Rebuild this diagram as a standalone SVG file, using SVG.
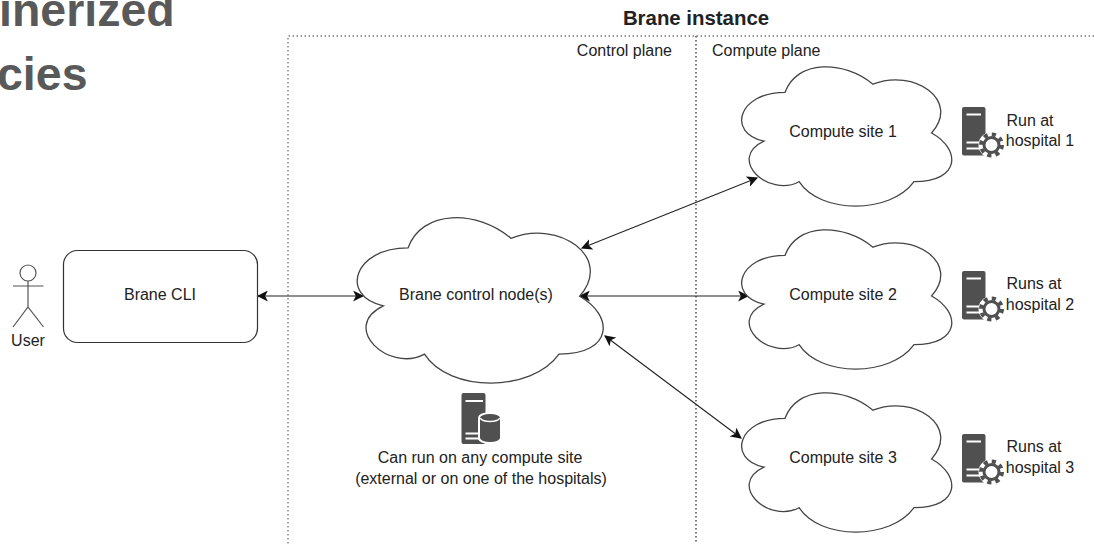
<svg xmlns="http://www.w3.org/2000/svg" xmlns:xlink="http://www.w3.org/1999/xlink" width="1094" height="544" viewBox="0 0 1094 544">
<style>
text{font-family:"Liberation Sans",Arial,sans-serif;font-size:16px;fill:#222}
.m{text-anchor:middle}
.title{font-size:46.5px;font-weight:700;fill:#595959}
.cloud{fill:#fff;stroke:#444;stroke-width:1.3;vector-effect:non-scaling-stroke}
.dot{fill:none;stroke:#777;stroke-width:1.3;stroke-dasharray:1.4 2.6}
.conn{fill:none;stroke:#222;stroke-width:1.1;marker-start:url(#a);marker-end:url(#a)}
.actor{fill:#fff;stroke:#555;stroke-width:1.2}
.srv{fill:#505050}
.wh{fill:none;stroke:#fff;stroke-width:2}
</style>
<defs>
<marker id="a" viewBox="0 0 10 10" refX="9" refY="5" markerWidth="11" markerHeight="11" markerUnits="userSpaceOnUse" orient="auto-start-reverse"><path d="M0 0L10 5L0 10L2.5 5Z" fill="#111"/></marker>
<path id="cloud" class="cloud" d="M25 25C5 25 0 50 16 55C0 66 18 90 31 80C40 100 70 100 80 80C100 80 100 60 87.5 50C100 30 80 10 62.5 20C50 5 30 5 25 25Z"/>
<g id="gs">
<rect class="srv" x="0" y="0" width="23.500" height="48.500" rx="2"/>
<path class="wh" d="M4.500 7.500H19M4.500 35.500H20M4.500 41.500H20"/>
<circle cx="29.500" cy="38" r="13" fill="#fff"/>
<circle cx="29.500" cy="38" r="7.500" fill="none" stroke="#505050" stroke-width="3"/>
<circle cx="29.500" cy="38" r="10.500" fill="none" stroke="#505050" stroke-width="4" stroke-dasharray="4.120 4.120"/>
</g>
</defs>
<text class="title" x="-1" y="26">inerized</text>
<text class="title" x="-3" y="90">cies</text>
<g id="frame">
<path class="dot" d="M1094 36H288V544"/>
<path class="dot" d="M696 36V544" style="stroke:#333"/>
<text x="696" y="25" class="m" style="font-weight:700;font-size:20.400px">Brane instance</text>
<text x="672" y="56" text-anchor="end">Control plane</text>
<text x="712" y="56">Compute plane</text>
</g>
<g id="connectors">
<path class="conn" d="M258 296H363"/>
<path class="conn" d="M582 248L757 178"/>
<path class="conn" d="M580 296H748"/>
<path class="conn" d="M605 336L741 438"/>
</g>
<g id="user">
<circle class="actor" cx="28" cy="273" r="8"/>
<path class="actor" d="M28 281V307M13 286H43.500M13 327L28 307L43.500 327" fill="none"/>
<text x="28" y="346" class="m">User</text>
</g>
<g id="cli">
<rect x="63.500" y="250.500" width="194" height="92" rx="14" fill="#fff" stroke="#333" stroke-width="1.2"/>
<text x="160" y="300" class="m">Brane CLI</text>
</g>
<g id="control">
<use xlink:href="#cloud" href="#cloud" transform="translate(339.400 199.700) scale(2.745 1.930)"/>
<text x="476" y="300" class="m">Brane control node(s)</text>
</g>
<g id="control-icon">
<rect class="srv" x="461.500" y="393" width="24" height="51" rx="2"/>
<path class="wh" d="M465.500 401H483M465.500 433.500H480M465.500 438.500H480"/>
<path d="M479 418a11 5 0 0 1 22 0V438a11 5 0 0 1 -22 0Z" fill="#505050" stroke="#fff" stroke-width="2"/>
<path d="M480.500 418a9.500 3.500 0 0 0 19 0" fill="none" stroke="#fff" stroke-width="1.500"/>
<text x="480" y="463" class="m">Can run on any compute site</text>
<text x="481" y="484" class="m">(external or on one of the hospitals)</text>
</g>
<g id="site1">
<use xlink:href="#cloud" href="#cloud" transform="translate(726.400 51.700) scale(2.345 1.625)"/>
<text x="843" y="137" class="m">Compute site 1</text>
</g>
<g id="site2">
<use xlink:href="#cloud" href="#cloud" transform="translate(726.400 214.700) scale(2.345 1.625)"/>
<text x="843" y="300" class="m">Compute site 2</text>
</g>
<g id="site3">
<use xlink:href="#cloud" href="#cloud" transform="translate(726.400 377.700) scale(2.345 1.625)"/>
<text x="843" y="463" class="m">Compute site 3</text>
</g>
<g id="host1">
<use xlink:href="#gs" href="#gs" x="962" y="107"/>
<text x="1030" y="126" class="m">Run at</text><text x="1040" y="146" class="m">hospital 1</text>
</g>
<g id="host2">
<use xlink:href="#gs" href="#gs" x="962" y="271"/>
<text x="1034" y="289" class="m">Runs at</text><text x="1040" y="310" class="m">hospital 2</text>
</g>
<g id="host3">
<use xlink:href="#gs" href="#gs" x="962" y="434"/>
<text x="1034" y="452" class="m">Runs at</text><text x="1040" y="473" class="m">hospital 3</text>
</g>
</svg>
